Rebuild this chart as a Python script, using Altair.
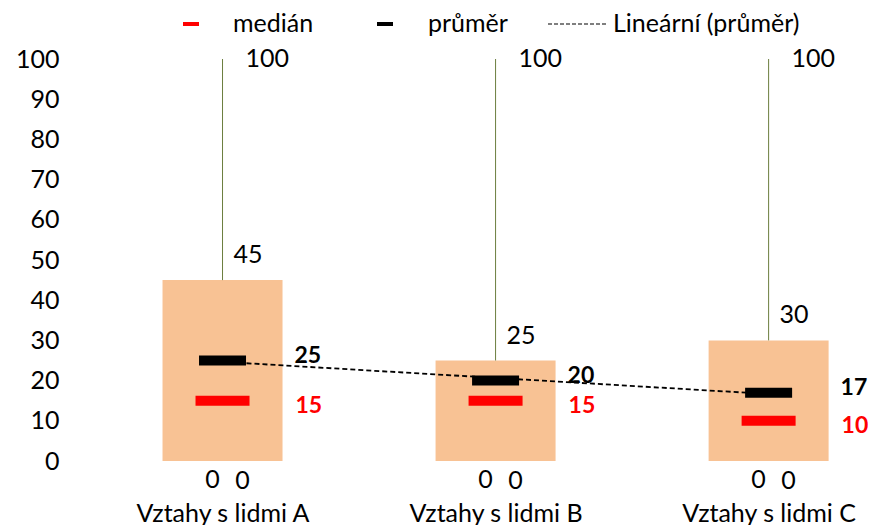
import json
import altair as alt
import pandas as pd

# ---- data ----
categories = ["Vztahy s lidmi A", "Vztahy s lidmi B", "Vztahy s lidmi C"]
minimum = [0, 0, 0]
q1 = [0, 0, 0]
q3 = [45, 25, 30]
maximum = [100, 100, 100]
mean = [25, 20, 17]
median = [15, 15, 10]
legend_labels = ["medián", "průměr", "Lineární (průměr)"]
y_ticks = [0, 10, 20, 30, 40, 50, 60, 70, 80, 90, 100]

df = pd.DataFrame({
    "kat": categories,
    "idx": list(range(1, len(categories) + 1)),
    "min": minimum,
    "q1": q1,
    "q3": q3,
    "max": maximum,
    "mean": mean,
    "median": median,
})

FONT = "Lato"
FS = 25
FSB = 23
BOX = "#F8C294"
WHISK = "#6b7d3e"

label_expr = json.dumps(categories) + "[datum.value - 1]"

xs = alt.Scale(domain=[0.5, 3.364], nice=False, zero=False, padding=0)
ys = alt.Scale(domain=[0, 100], nice=False, padding=0)

x_axis = alt.Axis(
    values=list(range(1, len(categories) + 1)), labelExpr=label_expr, title=None,
    grid=False, domain=False, ticks=False, labelPadding=40, labelFontSize=FS,
    labelFont=FONT, labelColor="#000", labelBaseline="top", labelFlush=False,
    labelOverlap=False, labelBound=False)
y_axis = alt.Axis(
    values=y_ticks, title=None, grid=False, domain=False, ticks=False,
    labelPadding=27, labelFontSize=FS, labelFont=FONT, labelColor="#000")


def X():
    return alt.X("idx:Q", scale=xs, axis=x_axis)


def Y(field):
    return alt.Y(f"{field}:Q", scale=ys, axis=y_axis)


base = alt.Chart(df)

box = base.mark_bar(size=120, color=BOX).encode(x=X(), y=Y("q1"), y2="q3:Q")
whisk_hi = base.mark_rule(color=WHISK, strokeWidth=1).encode(x=X(), y=Y("q3"), y2="max:Q")
whisk_lo = base.mark_rule(color=WHISK, strokeWidth=1).encode(x=X(), y=Y("min"), y2="q1:Q")

trend = base.transform_regression("idx", "mean").mark_line(
    color="#000", strokeDash=[5, 3], strokeWidth=1.8).encode(x=X(), y=Y("mean"))

mean_tick = base.mark_tick(orient="horizontal", size=47, thickness=10, color="#000",
                           opacity=1).encode(x=X(), y=Y("mean"))
median_tick = base.mark_tick(orient="horizontal", size=54, thickness=10, color="#FF0000",
                             opacity=1).encode(x=X(), y=Y("median"))

txt = dict(font=FONT, fontSize=FS, baseline="middle")
txtb = dict(font=FONT, fontSize=FSB, baseline="middle", fontWeight="bold")
max_lbl = base.mark_text(align="left", dx=23, color="#000", **txt).encode(
    x=X(), y=Y("max"), text="max:Q")
q3_lbl = base.mark_text(align="left", dx=11, dy=-25, color="#000", **txt).encode(
    x=X(), y=Y("q3"), text="q3:Q")
mean_lbl = base.mark_text(align="left", dx=72, dy=-5, color="#000", **txtb).encode(
    x=X(), y=Y("mean"), text="mean:Q")
median_lbl = base.mark_text(align="left", dx=73, dy=5, color="#FF0000", **txtb).encode(
    x=X(), y=Y("median"), text="median:Q")
min_lbl = base.mark_text(align="center", dx=-10, dy=19, color="#000", **txt).encode(
    x=X(), y=Y("min"), text="min:Q")
q1_lbl = base.mark_text(align="center", dx=20, dy=20, color="#000", **txt).encode(
    x=X(), y=Y("q1"), text="q1:Q")

# ---- legend (drawn above the plot) ----
LY = -35
leg_df = [pd.DataFrame({"label": [l]}) for l in legend_labels]
leg_red = alt.Chart(leg_df[0]).mark_rule(color="#FF0000", strokeWidth=4).encode(
    x=alt.value(97), x2=alt.value(113), y=alt.value(LY))
leg_blk = alt.Chart(leg_df[1]).mark_rule(color="#000", strokeWidth=4).encode(
    x=alt.value(291), x2=alt.value(307), y=alt.value(LY))
leg_dash = alt.Chart(leg_df[2]).mark_rule(color="#000", strokeWidth=1.2, strokeDash=[4, 2]).encode(
    x=alt.value(462), x2=alt.value(522), y=alt.value(LY))
leg_t1 = alt.Chart(leg_df[0]).mark_text(align="left", color="#000", **txt).encode(
    x=alt.value(147), y=alt.value(LY), text="label:N")
leg_t2 = alt.Chart(leg_df[1]).mark_text(align="left", color="#000", **txt).encode(
    x=alt.value(342), y=alt.value(LY), text="label:N")
leg_t3 = alt.Chart(leg_df[2]).mark_text(align="left", color="#000", **txt).encode(
    x=alt.value(527), y=alt.value(LY), text="label:N")

chart = alt.layer(
    box, whisk_hi, whisk_lo, trend, mean_tick, median_tick,
    max_lbl, q3_lbl, mean_lbl, median_lbl, min_lbl, q1_lbl,
    leg_red, leg_blk, leg_dash, leg_t1, leg_t2, leg_t3,
).properties(
    width=782, height=402,
    padding={"left": 78, "top": 51, "right": 0, "bottom": 64},
    autosize=alt.AutoSizeParams(type="none"),
    background="white",
).configure_view(strokeWidth=0)

chart.save("out.html", embed_options={"renderer": "svg", "actions": False})
